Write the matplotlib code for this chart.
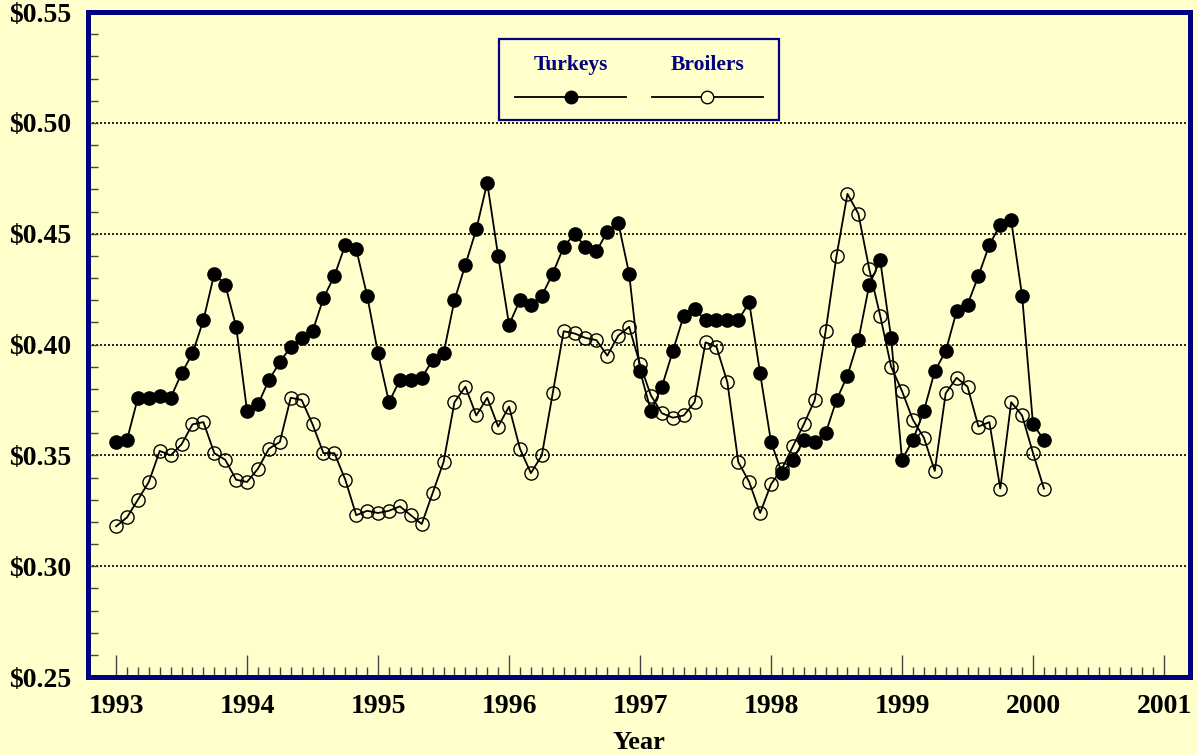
import numpy as np
import matplotlib.pyplot as plt
from matplotlib.ticker import MultipleLocator, FixedLocator
from matplotlib.lines import Line2D
from matplotlib.patches import Rectangle

# monthly prices, Jan 1993 - Feb 2000
start_year = 1993
turkeys = [0.356, 0.357, 0.376, 0.376, 0.377, 0.376, 0.387, 0.396, 0.411, 0.432, 0.427, 0.408,
           0.370, 0.373, 0.384, 0.392, 0.399, 0.403, 0.406, 0.421, 0.431, 0.445, 0.443, 0.422,
           0.396, 0.374, 0.384, 0.384, 0.385, 0.393, 0.396, 0.420, 0.436, 0.452, 0.473, 0.440,
           0.409, 0.420, 0.418, 0.422, 0.432, 0.444, 0.450, 0.444, 0.442, 0.451, 0.455, 0.432,
           0.388, 0.370, 0.381, 0.397, 0.413, 0.416, 0.411, 0.411, 0.411, 0.411, 0.419, 0.387,
           0.356, 0.342, 0.348, 0.357, 0.356, 0.360, 0.375, 0.386, 0.402, 0.427, 0.438, 0.403,
           0.348, 0.357, 0.370, 0.388, 0.397, 0.415, 0.418, 0.431, 0.445, 0.454, 0.456, 0.422,
           0.364, 0.357]
broilers = [0.318, 0.322, 0.330, 0.338, 0.352, 0.350, 0.355, 0.364, 0.365, 0.351, 0.348, 0.339,
            0.338, 0.344, 0.353, 0.356, 0.376, 0.375, 0.364, 0.351, 0.351, 0.339, 0.323, 0.325,
            0.324, 0.325, 0.327, 0.323, 0.319, 0.333, 0.347, 0.374, 0.381, 0.368, 0.376, 0.363,
            0.372, 0.353, 0.342, 0.350, 0.378, 0.406, 0.405, 0.403, 0.402, 0.395, 0.404, 0.408,
            0.391, 0.377, 0.369, 0.367, 0.368, 0.374, 0.401, 0.399, 0.383, 0.347, 0.338, 0.324,
            0.337, 0.344, 0.354, 0.364, 0.375, 0.406, 0.440, 0.468, 0.459, 0.434, 0.413, 0.390,
            0.379, 0.366, 0.358, 0.343, 0.378, 0.385, 0.381, 0.363, 0.365, 0.335, 0.374, 0.368,
            0.351, 0.335]
year_ticks = [1993, 1994, 1995, 1996, 1997, 1998, 1999, 2000, 2001]
price_ticks = [0.25, 0.30, 0.35, 0.40, 0.45, 0.50, 0.55]
price_labels = ["\\$%.2f" % p for p in price_ticks]

bg = "#FFFFCC"
navy = "#000080"
plt.rcParams['font.family'] = ['Liberation Serif', 'DejaVu Serif']

x = start_year + np.arange(len(turkeys)) / 12.0

fig = plt.figure(figsize=(11.98, 7.55), dpi=100, facecolor=bg)
ax = fig.add_axes([0.0735, 0.1033, 0.92, 0.8807], facecolor=bg)

ax.plot(x, broilers, color="black", lw=1.3, marker="o", ms=9.5,
        mfc="none", mec="black", mew=1.0, zorder=3)
ax.plot(x, turkeys, color="black", lw=1.3, marker="o", ms=9.5,
        mfc="black", mec="black", zorder=4)

ax.set_xlim(1992.786, 2001.2)
ax.set_ylim(0.25, 0.55)

ax.xaxis.set_major_locator(FixedLocator(year_ticks))
ax.xaxis.set_minor_locator(FixedLocator(start_year + np.arange(1, 96) / 12.0))
ax.set_xticklabels([str(y) for y in year_ticks])
ax.yaxis.set_major_locator(FixedLocator(price_ticks))
ax.yaxis.set_minor_locator(MultipleLocator(0.01))
ax.set_yticklabels(price_labels)

ax.tick_params(axis="x", which="major", direction="in", length=16, width=1, color="#444444", pad=12)
ax.tick_params(axis="x", which="minor", direction="in", length=7.5, width=1, color="#444444")
ax.tick_params(axis="y", which="both", direction="in", length=7, width=1, color="#444444", pad=12)
for lab in ax.get_xticklabels() + ax.get_yticklabels():
    lab.set_fontsize(20)
    lab.set_fontweight("bold")

ax.yaxis.grid(True, which="major", linestyle=(0, (1.2, 1.2)), color="black", lw=1.2)
ax.set_axisbelow(True)

for s in ax.spines.values():
    s.set_color(navy)
    s.set_linewidth(3.6)

ax.set_xlabel("Year", fontsize=19, fontweight="bold", labelpad=9)

# legend box with labels above the sample markers
ax.add_patch(Rectangle((0.373, 0.838), 0.254, 0.121, transform=ax.transAxes,
                       facecolor=bg, edgecolor=navy, lw=1.6, zorder=5))
ax.text(0.438, 0.921, "Turkeys", transform=ax.transAxes, ha="center", va="center",
        fontsize=15.5, fontweight="bold", color=navy, zorder=6)
ax.text(0.562, 0.921, "Broilers", transform=ax.transAxes, ha="center", va="center",
        fontsize=15.5, fontweight="bold", color=navy, zorder=6)
ax.add_line(Line2D([0.387, 0.488], [0.872, 0.872], transform=ax.transAxes, color="black", lw=1.3, zorder=6))
ax.add_line(Line2D([0.438], [0.872], transform=ax.transAxes, marker="o", ms=9, mfc="black", mec="black", zorder=7))
ax.add_line(Line2D([0.512, 0.612], [0.872, 0.872], transform=ax.transAxes, color="black", lw=1.3, zorder=6))
ax.add_line(Line2D([0.562], [0.872], transform=ax.transAxes, marker="o", ms=9, mfc=bg, mec="black", mew=1.0, zorder=7))

fig.savefig("out.png", dpi=100, facecolor=bg)
